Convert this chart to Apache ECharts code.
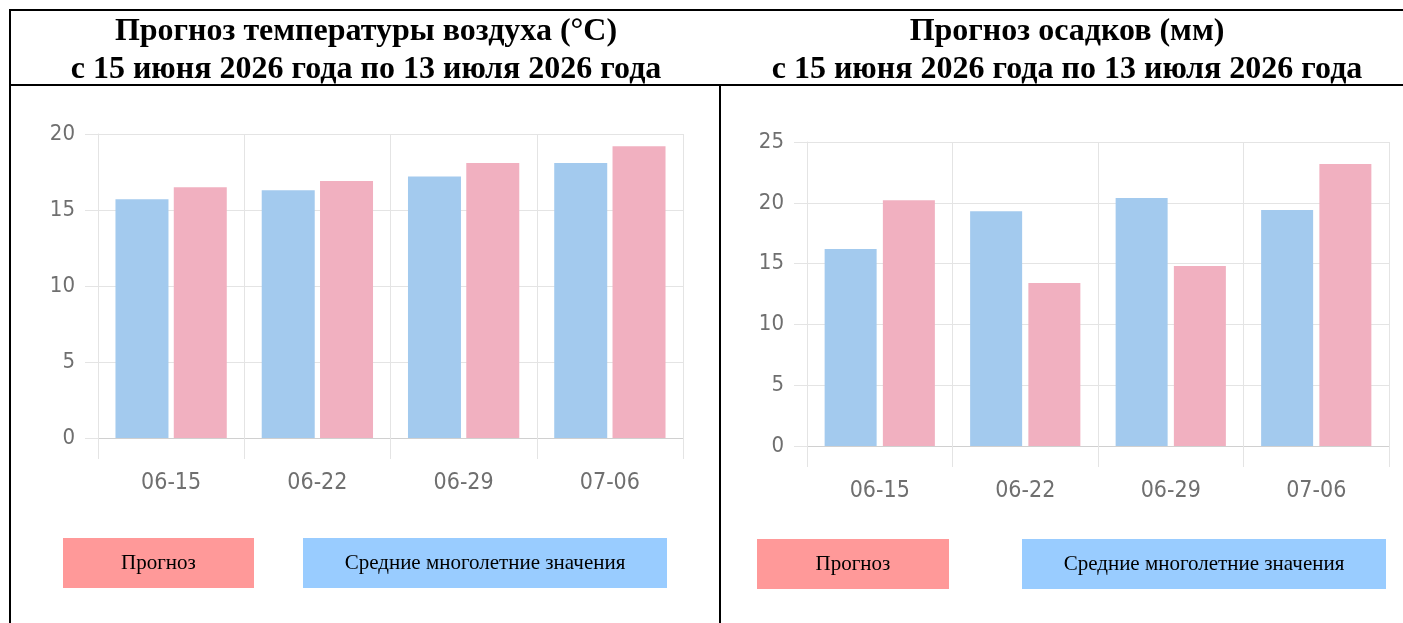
<!DOCTYPE html>
<html>
<head>
<meta charset="utf-8">
<script src="https://cdn.jsdelivr.net/npm/echarts@6/dist/echarts.min.js"></script>
<style>
  html, body { margin: 0; padding: 0; background: #fff; }
  #wrap { position: relative; width: 1403px; height: 623px; overflow: hidden; }
  #chart { position: absolute; left: 0; top: 0; width: 1403px; height: 623px; }
  .ln { position: absolute; background: #000; }
</style>
</head>
<body>
<div id="wrap">
  <div id="chart"></div>
  <div class="ln" style="left:9px; top:9px; width:1394px; height:2px;"></div>
  <div class="ln" style="left:9px; top:84px; width:1394px; height:2px;"></div>
  <div class="ln" style="left:9px; top:9px; width:2px; height:614px;"></div>
  <div class="ln" style="left:719px; top:84px; width:2px; height:539px;"></div>
</div>
<script>
const categories = ['06-15', '06-22', '06-29', '07-06'];
const tempNorm = [15.7, 16.3, 17.2, 18.1];
const tempForecast = [16.5, 16.9, 18.1, 19.2];
const precNorm = [16.2, 19.3, 20.4, 19.4];
const precForecast = [20.2, 13.4, 14.8, 23.2];
const tempTicks = [0, 5, 10, 15, 20];
const precTicks = [0, 5, 10, 15, 20, 25];

const titleLeft = 'Прогноз температуры воздуха (°C)\nс 15 июня 2026 года по 13 июля 2026 года';
const titleRight = 'Прогноз осадков (мм)\nс 15 июня 2026 года по 13 июля 2026 года';
const nameForecast = 'Прогноз';
const nameNorm = 'Средние многолетние значения';

const BLUE = '#a3caee';
const PINK = '#f1b0c0';
const GRID = '#e4e4e4';
const LABEL = '#6f6f6f';
const AXFONT = '"Liberation Sans Narrow", "DejaVu Sans Condensed", "Roboto", sans-serif';
const SERIF = '"Liberation Serif", "Times New Roman", serif';

function xAxis(gi) {
  return {
    type: 'category', gridIndex: gi, data: categories,
    axisLine: { show: true, lineStyle: { color: '#d0d0d0', width: 1 } },
    axisTick: { show: true, length: 21, lineStyle: { color: GRID } },
    splitLine: { show: true, lineStyle: { color: GRID } },
    axisLabel: { color: LABEL, fontFamily: AXFONT, fontSize: 23, margin: 34 }
  };
}
function yAxis(gi, ticks) {
  return {
    type: 'value', gridIndex: gi, min: ticks[0], max: ticks[ticks.length - 1],
    interval: ticks[1] - ticks[0],
    axisLine: { show: true, lineStyle: { color: GRID } },
    axisTick: { show: true, length: 13, lineStyle: { color: GRID } },
    splitLine: { show: true, lineStyle: { color: GRID } },
    axisLabel: { color: LABEL, fontFamily: AXFONT, fontSize: 22, margin: 23 }
  };
}
function legend(left, top, gap, wf, wn) {
  const base = { fontFamily: SERIF, fontSize: 21, color: '#000', height: 50, lineHeight: 50,
    align: 'center', verticalAlign: 'middle', padding: 0 };
  return {
    left: left, top: top, itemWidth: 0, itemHeight: 0, itemGap: gap, padding: 0, selectedMode: false,
    icon: 'none',
    formatter: function (name) { return (name === nameForecast ? '{f|' : '{n|') + name + '}'; },
    textStyle: {
      rich: {
        f: Object.assign({}, base, { backgroundColor: '#ff9999', width: wf }),
        n: Object.assign({}, base, { backgroundColor: '#99ccff', width: wn })
      }
    },
    data: [nameForecast, nameNorm]
  };
}

const chart = echarts.init(document.getElementById('chart'), null, { renderer: 'canvas' });
chart.setOption({
  animation: false,
  title: [
    { text: titleLeft, left: 361, top: 8, textAlign: 'center',
      textStyle: { fontFamily: SERIF, fontWeight: 'bold', fontSize: 32, lineHeight: 38, color: '#000', align: 'center' } },
    { text: titleRight, left: 1062, top: 8, textAlign: 'center',
      textStyle: { fontFamily: SERIF, fontWeight: 'bold', fontSize: 32, lineHeight: 38, color: '#000', align: 'center' } }
  ],
  legend: [
    legend(58, 538, 44, 191, 364),
    legend(752, 539, 68, 192, 364)
  ],
  grid: [
    { left: 98, top: 134, width: 585, height: 304 },
    { left: 807, top: 142, width: 582, height: 304 }
  ],
  xAxis: [xAxis(0), xAxis(1)],
  yAxis: [yAxis(0, tempTicks), yAxis(1, precTicks)],
  series: [
    { name: nameNorm, type: 'bar', xAxisIndex: 0, yAxisIndex: 0, data: tempNorm, barWidth: 53, barGap: '10%', itemStyle: { color: BLUE } },
    { name: nameForecast, type: 'bar', xAxisIndex: 0, yAxisIndex: 0, data: tempForecast, barWidth: 53, barGap: '10%', itemStyle: { color: PINK } },
    { name: nameNorm, type: 'bar', xAxisIndex: 1, yAxisIndex: 1, data: precNorm, barWidth: 52, barGap: '12%', itemStyle: { color: BLUE } },
    { name: nameForecast, type: 'bar', xAxisIndex: 1, yAxisIndex: 1, data: precForecast, barWidth: 52, barGap: '12%', itemStyle: { color: PINK } }
  ]
});
</script>
</body>
</html>
